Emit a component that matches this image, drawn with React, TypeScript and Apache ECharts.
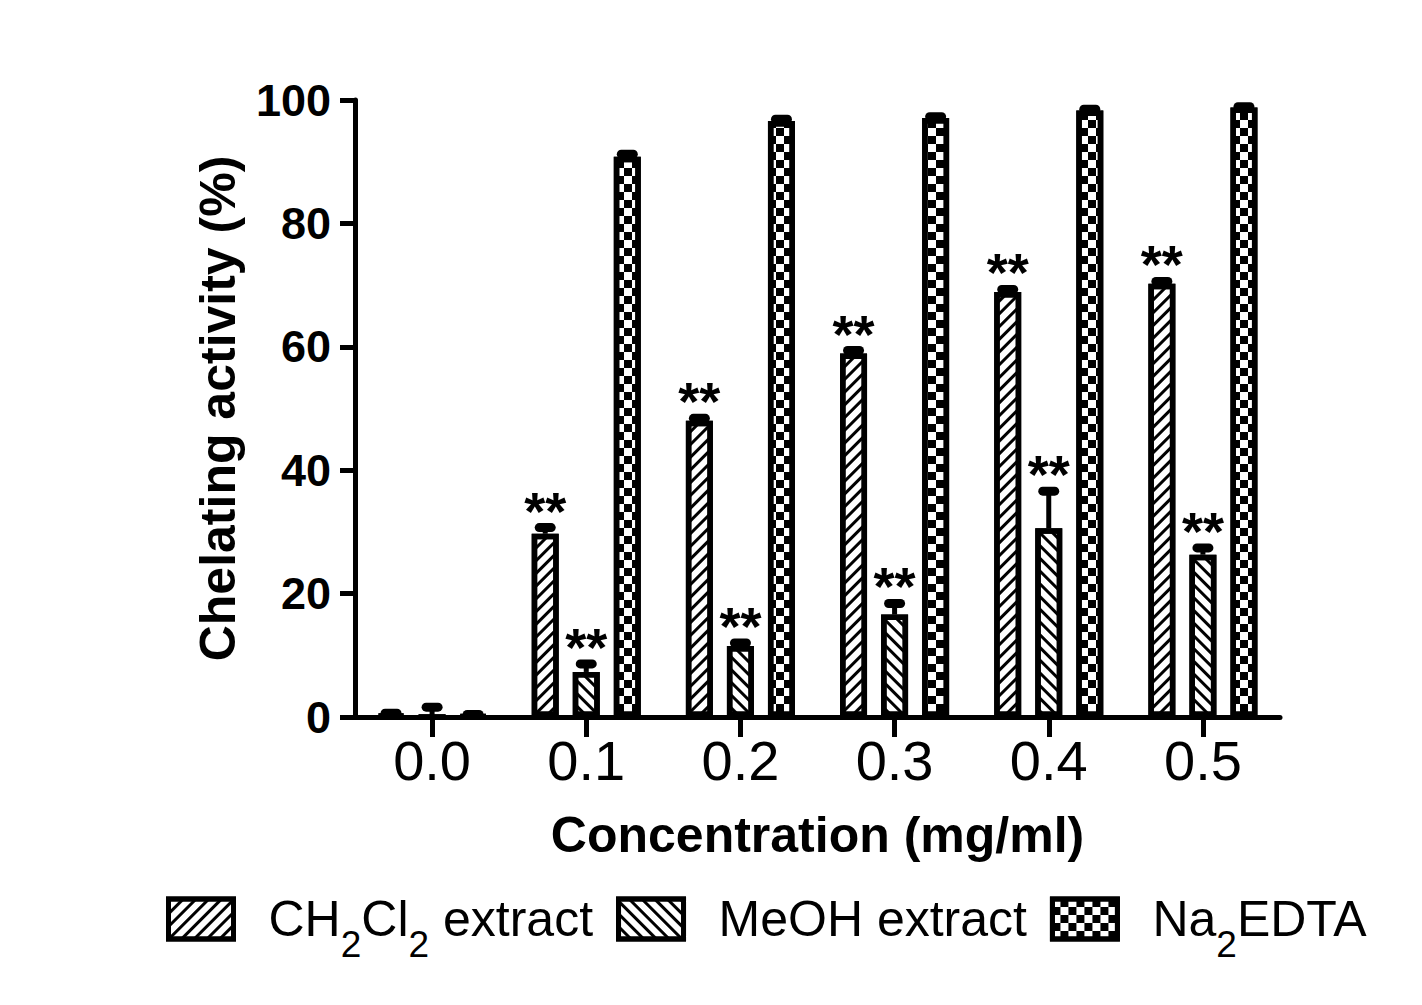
import React, { useEffect, useRef } from "react";
import * as echarts from "echarts";

const categories = ["0.0", "0.1", "0.2", "0.3", "0.4", "0.5"];
const ch2cl2Values = [0.3, 29.7, 48.0, 58.9, 68.9, 70.2];
const ch2cl2Errors = [0.3, 1.0, 0.4, 0.5, 0.4, 0.4];
const meohValues = [0.0, 7.3, 11.5, 16.6, 30.6, 26.3];
const meohErrors = [1.6, 1.3, 0.5, 1.8, 6.0, 1.1];
const edtaValues = [0.2, 90.8, 96.6, 97.1, 98.3, 98.8];
const edtaErrors = [0.2, 0.4, 0.3, 0.2, 0.2, 0.1];
const ch2cl2Marks = ["", "**", "**", "**", "**", "**"];
const meohMarks = ["", "**", "**", "**", "**", "**"];
const edtaMarks = ["", "", "", "", "", ""];
const seriesNames = ["CH2Cl2 extract", "MeOH extract", "Na2EDTA"];
const legendLabels = [
  "{n|CH}{s|2}{n|Cl}{s|2}{n| extract}",
  "{n|MeOH extract}",
  "{n|Na}{s|2}{n|EDTA}",
];
const yMin = 0;
const yMax = 100;
const yInterval = 20;
const xTitle = "Concentration (mg/ml)";
const yTitle = "Chelating activity (%)";

const FONT = "'Liberation Sans', Arial, Helvetica, sans-serif";
const BAR_WIDTH = 27;
const BAR_GAP = 0.52;
const GROUP_OFFSET = BAR_WIDTH * (1 + BAR_GAP);

const valueTable = [ch2cl2Values, meohValues, edtaValues];
const errorTable = [ch2cl2Errors, meohErrors, edtaErrors];
const markTable = [ch2cl2Marks, meohMarks, edtaMarks];

const decals: any[] = [
  {
    symbol: "rect",
    symbolSize: 1,
    color: "#000",
    dashArrayX: [10, 0],
    dashArrayY: [3, 6],
    rotation: -Math.PI / 4,
  },
  {
    symbol: "rect",
    symbolSize: 1,
    color: "#000",
    dashArrayX: [10, 0],
    dashArrayY: [3, 6],
    rotation: Math.PI / 4,
  },
  {
    symbol: "rect",
    symbolSize: 1,
    color: "#000",
    dashArrayX: [
      [8, 8],
      [0, 8, 8, 0],
    ],
    dashArrayY: [8, 0],
    rotation: 0,
  },
];

export default function App() {
  const ref = useRef<HTMLDivElement>(null);

  useEffect(() => {
    if (!ref.current) return;
    const chart = echarts.init(ref.current, null, { renderer: "svg" });

    const barSeries = seriesNames.map((name, si) => ({
      type: "bar",
      name,
      data: valueTable[si],
      barWidth: BAR_WIDTH,
      barGap: `${BAR_GAP * 100}%`,
      itemStyle: {
        color: "#fff",
        borderColor: "#000",
        borderWidth: 5.5,
        decal: decals[si],
      },
      emphasis: { disabled: true },
      z: 2,
    }));

    const errData: number[][] = [];
    for (let si = 0; si < valueTable.length; si++) {
      for (let ci = 0; ci < categories.length; ci++) {
        errData.push([ci, si, valueTable[si][ci], errorTable[si][ci]]);
      }
    }

    const option: any = {
      animation: false,
      backgroundColor: "#fff",
      grid: { left: 355, right: 142, top: 100, bottom: 288, containLabel: false },
      legend: {
        left: 161,
        top: 889,
        orient: "horizontal",
        itemWidth: 65,
        itemHeight: 40,
        itemGap: 23,
        icon: "rect",
        selectedMode: false,
        data: seriesNames,
        itemStyle: { borderColor: "#000", borderWidth: 5 },
        formatter: (name: string) => legendLabels[seriesNames.indexOf(name)],
        textStyle: {
          padding: [0, 0, 0, 30],
          color: "#000",
          fontFamily: FONT,
          rich: {
            n: { fontSize: 50, lineHeight: 88, fontFamily: FONT, color: "#000" },
            s: {
              fontSize: 37,
              lineHeight: 38,
              verticalAlign: "bottom",
              fontFamily: FONT,
              color: "#000",
            },
          },
        },
      },
      xAxis: {
        type: "category",
        data: categories,
        name: xTitle,
        nameLocation: "middle",
        nameGap: 93,
        nameTextStyle: { fontFamily: FONT, fontWeight: "bold", fontSize: 50, color: "#000" },
        axisLine: { show: true, lineStyle: { color: "#000", width: 5 } },
        axisTick: { show: true, alignWithLabel: true, length: 20, lineStyle: { color: "#000", width: 5 } },
        axisLabel: { fontFamily: FONT, fontSize: 56, color: "#000", margin: 15 },
        splitLine: { show: false },
      },
      yAxis: {
        type: "value",
        min: yMin,
        max: yMax,
        interval: yInterval,
        name: yTitle,
        nameLocation: "middle",
        nameGap: 112,
        nameTextStyle: { fontFamily: FONT, fontWeight: "bold", fontSize: 50, color: "#000" },
        axisLine: { show: true, lineStyle: { color: "#000", width: 5 } },
        axisTick: { show: true, length: 15, lineStyle: { color: "#000", width: 5 } },
        axisLabel: { fontFamily: FONT, fontWeight: "bold", fontSize: 45, color: "#000", margin: 24 },
        splitLine: { show: false },
      },
      series: [
        ...barSeries,
        {
          type: "custom",
          name: "errors",
          data: errData,
          encode: { x: 0, y: 2 },
          z: 3,
          clip: false,
          silent: true,
          renderItem: (params: any, api: any) => {
            const ci = api.value(0);
            const si = api.value(1);
            const v = api.value(2);
            const e = api.value(3);
            const base = api.coord([ci, v]);
            const top = api.coord([ci, v + e]);
            const x = base[0] + (si - 1) * GROUP_OFFSET;
            const mark = markTable[si][ci];
            const children: any[] = [
              {
                type: "line",
                shape: { x1: x, y1: base[1], x2: x, y2: top[1] },
                style: { stroke: "#000", lineWidth: 5 },
              },
              {
                type: "line",
                shape: { x1: x - 6, y1: top[1], x2: x + 6, y2: top[1] },
                style: { stroke: "#000", lineWidth: 9, lineCap: "round" },
              },
            ];
            if (mark) {
              children.push({
                type: "text",
                style: {
                  text: mark,
                  x,
                  y: top[1] - 17,
                  align: "center",
                  verticalAlign: "middle",
                  fontFamily: FONT,
                  fontWeight: "bold",
                  fontSize: 54,
                  fill: "#000",
                },
              });
            }
            return { type: "group", children };
          },
        },
      ],
    };

    chart.setOption(option);
    return () => chart.dispose();
  }, []);

  return (
    <div
      ref={ref}
      style={{ position: "fixed", left: 0, top: 0, width: 1422, height: 1005, background: "#fff" }}
    />
  );
}
